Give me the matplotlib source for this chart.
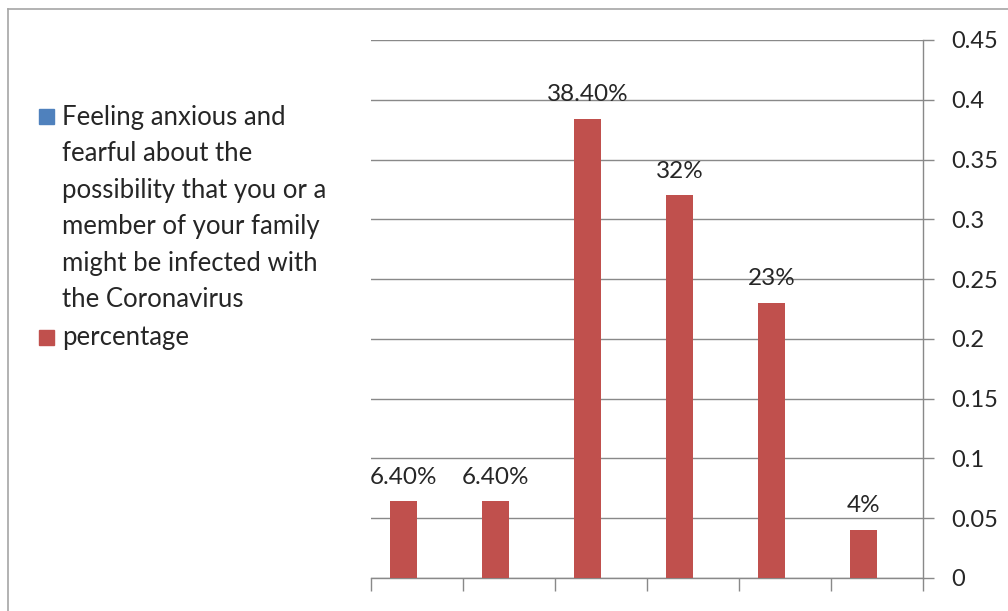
import numpy as np
import matplotlib.pyplot as plt
from matplotlib.lines import Line2D
from matplotlib.patches import Rectangle

plt.rcParams['font.family'] = ['Lato', 'DejaVu Sans']

# data
values = [0.064, 0.064, 0.384, 0.32, 0.23, 0.04]
empty_series = [0, 0, 0, 0, 0, 0]   # the blue series has no visible bars
labels = ['6.40%', '6.40%', '38.40%', '32%', '23%', '4%']
yticks = [0, 0.05, 0.1, 0.15, 0.2, 0.25, 0.3, 0.35, 0.4, 0.45]
ytick_labels = ['0', '0.05', '0.1', '0.15', '0.2', '0.25', '0.3', '0.35', '0.4', '0.45']
legend_names = ['Feeling anxious and\nfearful about the\npossibility that you or a\nmember of your family\nmight be infected with\nthe Coronavirus',
                'percentage']

W, H = 1008, 611
red = '#C0504D'
blue = '#4F81BD'
grid_c = '#898989'
txt_c = '#262626'

fig = plt.figure(figsize=(W / 100, H / 100), dpi=100)

def fx(px):
    return px / W

def fy(py):
    return 1 - py / H

# chart frame (cut off right/bottom like the screenshot)
fig.add_artist(Line2D([fx(8), 1], [fy(9), fy(9)], color='#A6A6A6', lw=1.2))
fig.add_artist(Line2D([fx(8), fx(8)], [fy(9), 0], color='#A6A6A6', lw=1.2))

ax = fig.add_axes([fx(371), fy(578), fx(923) - fx(371), fy(40) - fy(578)])
x = np.arange(len(values))
bw = 0.295
ax.bar(x - bw / 2, values, width=bw, color=red, zorder=3)
ax.bar(x + bw / 2, empty_series, width=bw, color=blue, zorder=3)
ax.set_xlim(-0.5, len(values) - 0.5)
ax.set_ylim(0, 0.45)

ax.yaxis.tick_right()
ax.set_yticks(yticks)
ax.set_yticklabels(ytick_labels)
ax.tick_params(axis='y', direction='out', length=8, width=1, color=grid_c,
               labelsize=17, labelcolor=txt_c, pad=12)
ax.set_xticks([])
ax.set_xticks(np.arange(-0.5, len(values)), minor=True)
ax.tick_params(axis='x', which='minor', direction='out', length=9, width=1, color=grid_c)
ax.grid(axis='y', color=grid_c, lw=1, zorder=0)
for s in ['top', 'left']:
    ax.spines[s].set_visible(False)
for s in ['bottom', 'right']:
    ax.spines[s].set_color(grid_c)
    ax.spines[s].set_linewidth(1)

for xi, v, lab in zip(x - bw / 2, values, labels):
    ax.annotate(lab, (xi, v), xytext=(0, 10), textcoords='offset points',
                ha='center', va='bottom', fontsize=17.5, color=txt_c)

# legend
sq = 15
fig.add_artist(Rectangle((fx(39), fy(124)), fx(sq), sq / H, color=blue, transform=fig.transFigure))
fig.add_artist(Rectangle((fx(39), fy(345)), fx(sq), sq / H, color=red, transform=fig.transFigure))
fig.text(fx(62), fy(105), legend_names[0], ha='left', va='top', fontsize=18.5,
         color=txt_c, linespacing=1.57)
fig.text(fx(62), fy(338), legend_names[1], ha='left', va='center', fontsize=18.5,
         color=txt_c)

fig.savefig('out.png', dpi=100)
